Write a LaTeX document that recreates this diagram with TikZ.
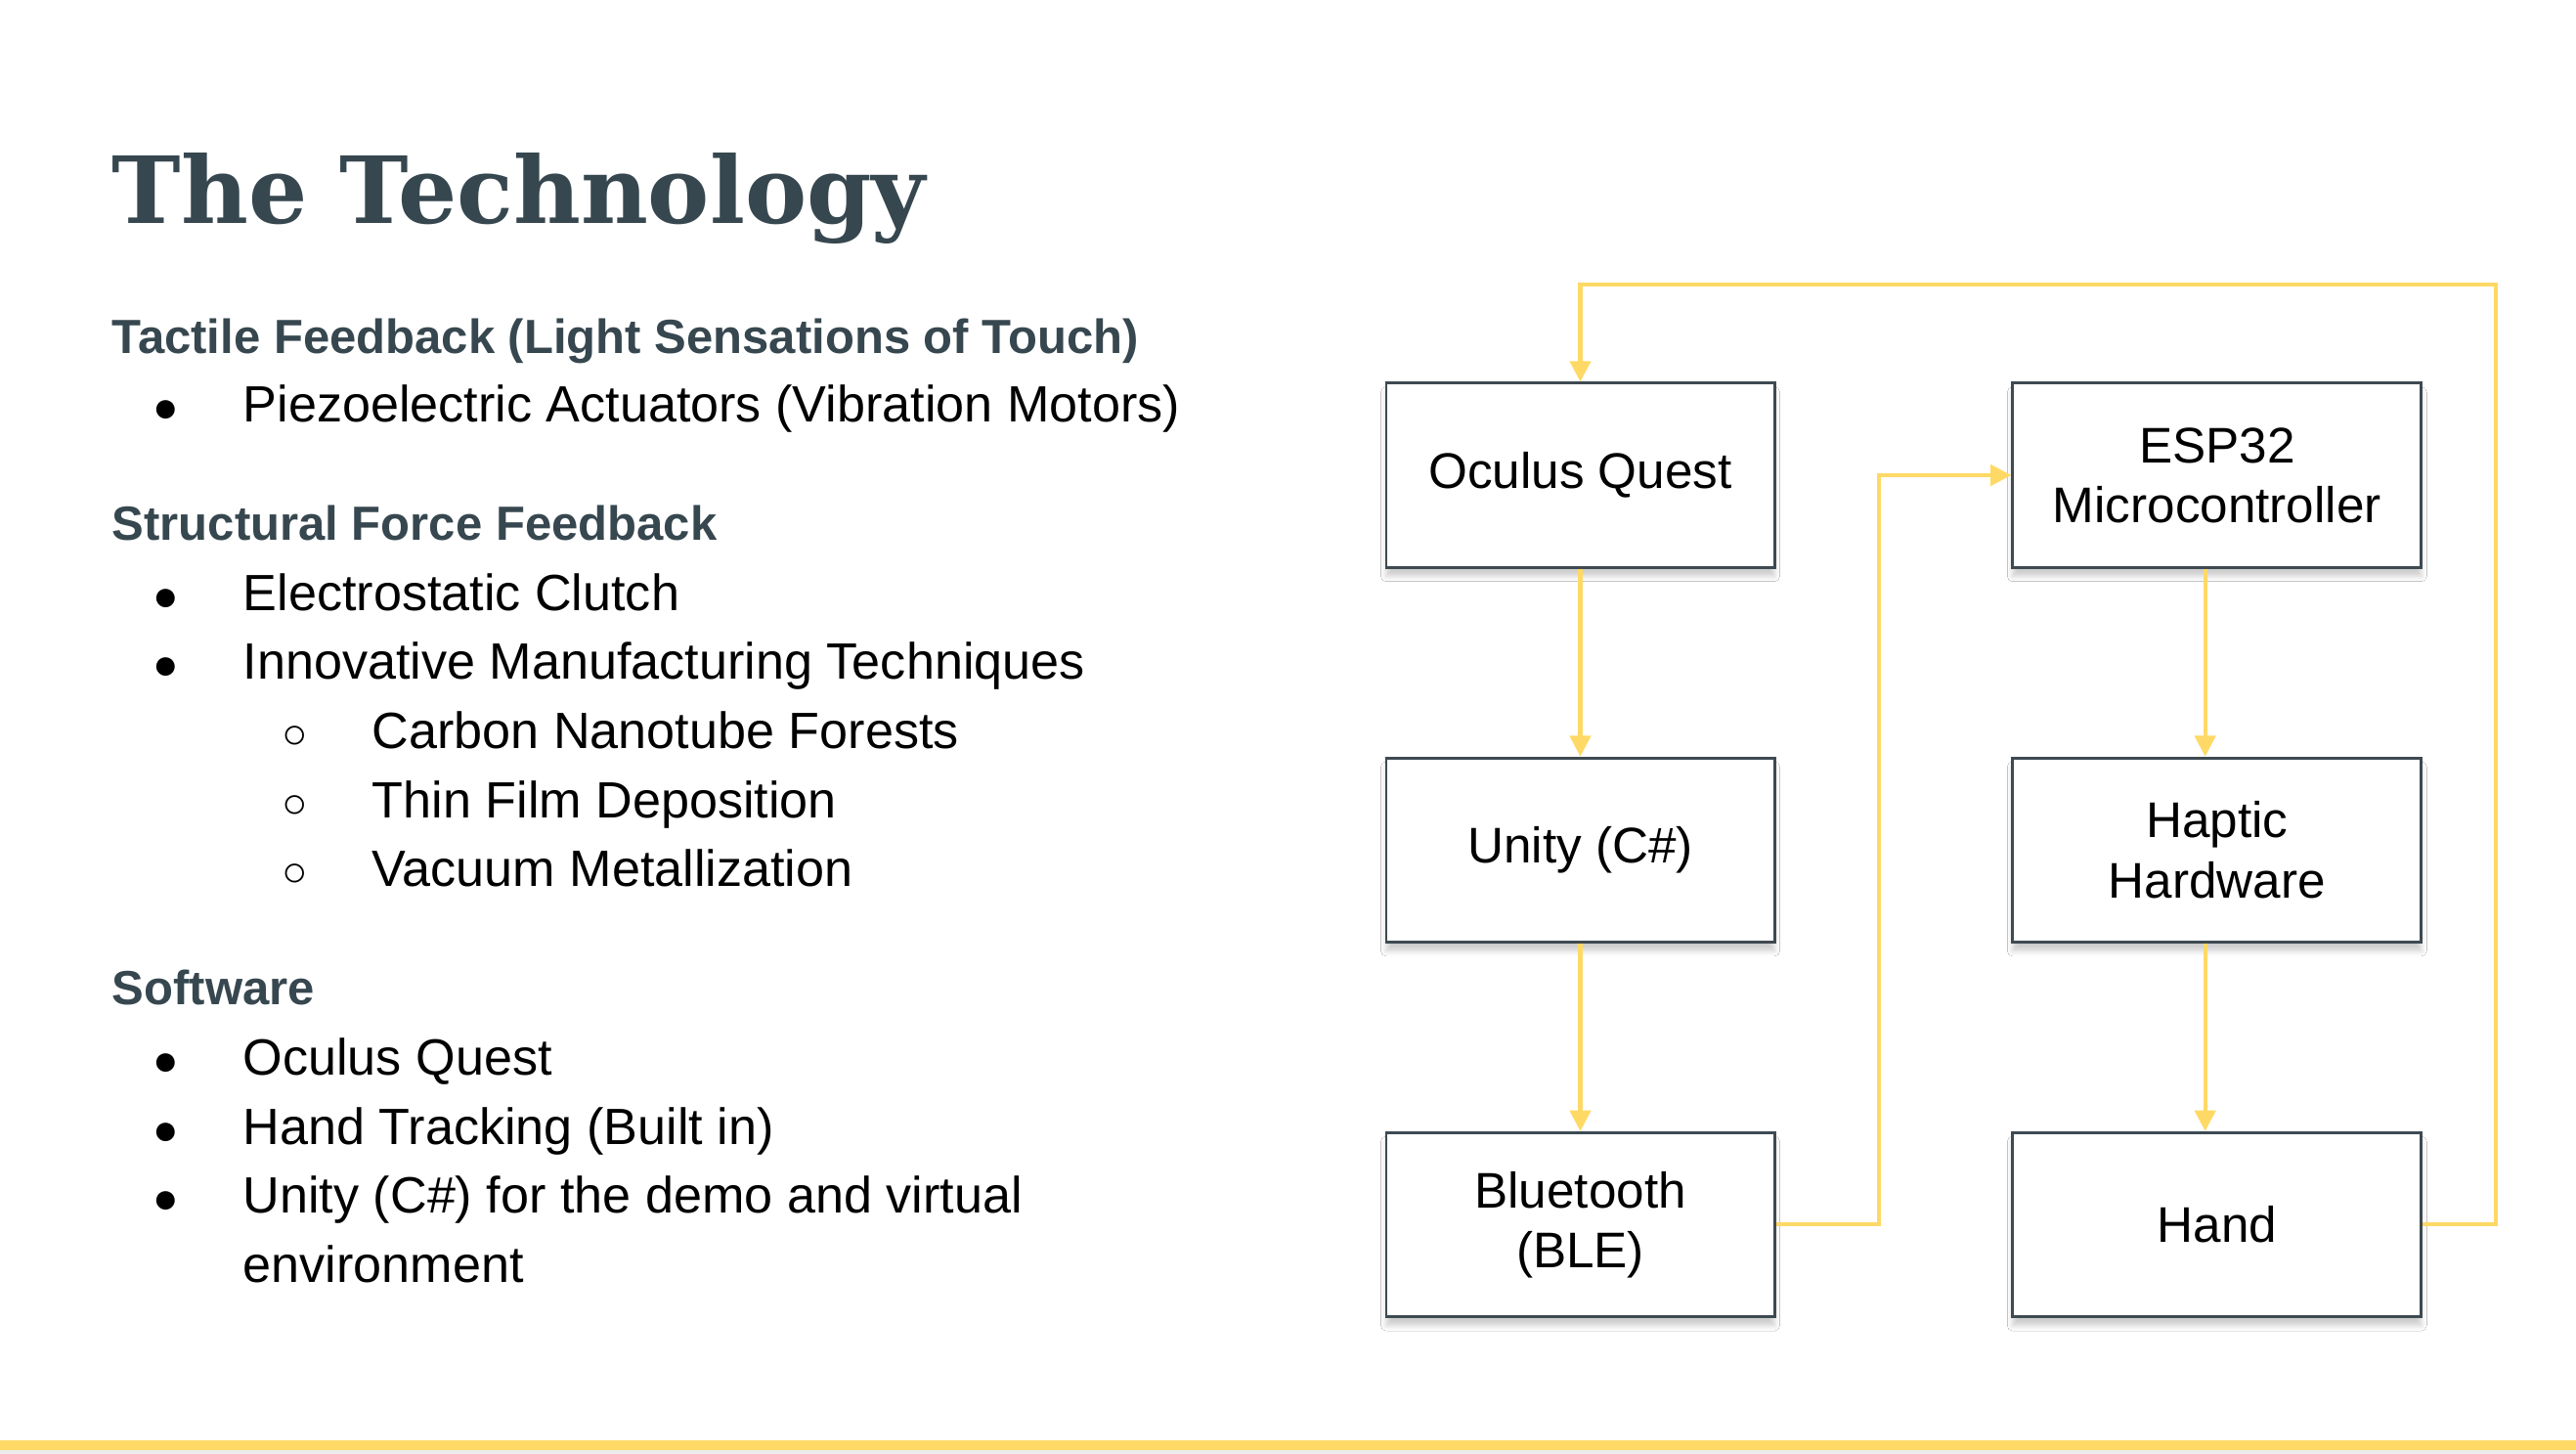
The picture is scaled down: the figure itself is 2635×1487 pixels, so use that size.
\documentclass[tikz,border=0pt]{standalone}
\usepackage{fontspec}
\setmainfont{Liberation Sans}
\newfontfamily\titlefont{DejaVu Serif}
\usetikzlibrary{arrows.meta,positioning,shadows.blur}
\definecolor{slate}{HTML}{37474F}
\definecolor{gold}{HTML}{FFD966}
\definecolor{edgegray}{HTML}{3E4A52}
\tikzset{
  blk/.style={rectangle, draw=edgegray, line width=0.8pt, fill=white,
              minimum height=51.4pt, align=center,
              font=\fontsize{14}{16.7}\selectfont,
              blur shadow={shadow xshift=0pt, shadow yshift=-2.5pt,
                           shadow blur radius=1.5pt, shadow opacity=20}},
  lblk/.style={blk, minimum width=108.5pt},
  rblk/.style={blk, minimum width=114.2pt},
  flow/.style={-{Triangle[length=5.8pt,width=5.8pt]}, draw=gold, line width=1.1pt},
  head/.style={anchor=base west, text=slate, inner sep=0pt,
               font=\bfseries\fontsize{13.4}{16}\selectfont},
  item/.style={anchor=base west, inner sep=0pt, font=\fontsize{14.25}{16}\selectfont},
  dot/.style={anchor=base, inner sep=0pt, font=\fontsize{12}{16}\selectfont}
}

\begin{document}
\begin{tikzpicture}[x=0.27324pt, y=-0.27324pt, node distance=52.5pt and 65.8pt]
  \useasboundingbox (0,0) rectangle (2635,1487);
  \fill[white] (0,0) rectangle (2635,1487);

  % title and lists
  \node[anchor=base west, inner sep=0pt, text=slate,
        font=\titlefont\bfseries\fontsize{25.9}{30}\selectfont] (title) at (114,228) {The Technology};

  \node[head] (h1) at (114,361) {Tactile Feedback (Light Sensations of Touch)};
  \node[dot] (b1) at (170,431) {●};
  \node[item] (t1) at (248,431) {Piezoelectric Actuators (Vibration Motors)};

  \node[head] (h2) at (114,552) {Structural Force Feedback};
  \node[dot] (b2) at (170,624) {●};
  \node[item] (t2) at (248,624) {Electrostatic Clutch};
  \node[dot] (b3) at (170,694) {●};
  \node[item] (t3) at (248,694) {Innovative Manufacturing Techniques};
  \node[dot] (c1) at (302,765) {○};
  \node[item] (s1) at (380,765) {Carbon Nanotube Forests};
  \node[dot] (c2) at (302,836) {○};
  \node[item] (s2) at (380,836) {Thin Film Deposition};
  \node[dot] (c3) at (302,906) {○};
  \node[item] (s3) at (380,906) {Vacuum Metallization};

  \node[head] (h3) at (114,1027) {Software};
  \node[dot] (b4) at (170,1099) {●};
  \node[item] (t4) at (248,1099) {Oculus Quest};
  \node[dot] (b5) at (170,1170) {●};
  \node[item] (t5) at (248,1170) {Hand Tracking (Built in)};
  \node[dot] (b6) at (170,1240) {●};
  \node[item] (t6) at (248,1240) {Unity (C\#) for the demo and virtual};
  \node[item] (t7) at (248,1311) {environment};

  % block diagram
  \node[lblk] (oculus) at (1616.5,486) {Oculus Quest};
  \node[lblk, below=of oculus] (unity) {Unity (C\#)};
  \node[lblk, below=of unity] (ble) {Bluetooth\\(BLE)};
  \node[rblk, right=of oculus] (esp) {ESP32\\Microcontroller};
  \node[rblk, below=of esp] (haptic) {Haptic\\Hardware};
  \node[rblk, below=of haptic] (hand) {Hand};

  \coordinate (loopR) at (2553,291);

  \draw[flow] (oculus) -- (unity);
  \draw[flow] (unity) -- (ble);
  \draw[flow] (ble.east) -- ++(105,0) |- (esp.west);
  \draw[flow] ([xshift=-3.3pt]esp.south) -- ([xshift=-3.3pt]haptic.north);
  \draw[flow] ([xshift=-3.3pt]haptic.south) -- ([xshift=-3.3pt]hand.north);
  \draw[flow] (hand.east) -| (loopR) -| (oculus.north);

  % bottom bar
  \fill[gold] (0,1473) rectangle (2635,1483);
  \fill[gray!15] (0,1483) rectangle (2635,1487);
\end{tikzpicture}
\end{document}
